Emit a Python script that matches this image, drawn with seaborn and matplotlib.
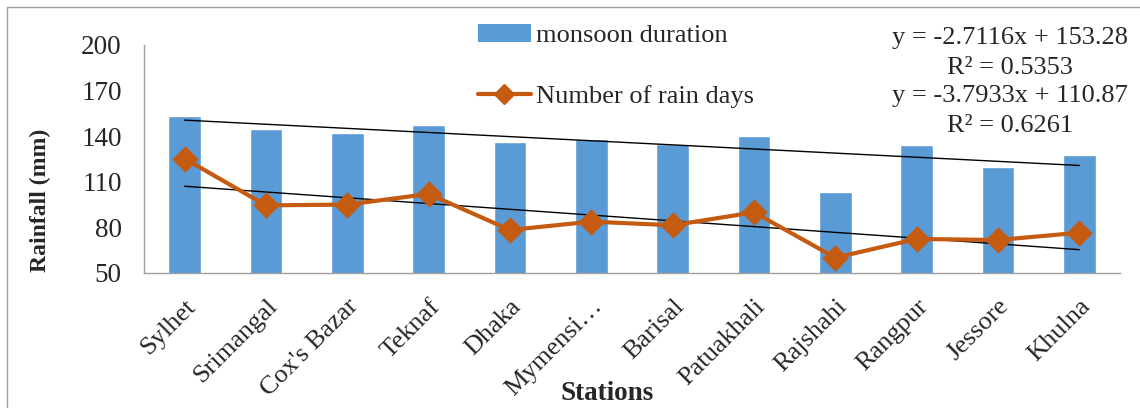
import numpy as np
import matplotlib
matplotlib.use("Agg")
import matplotlib.pyplot as plt
from matplotlib.lines import Line2D
from matplotlib.patches import Patch
import seaborn as sns

stations = ["Sylhet", "Srimangal", "Cox's Bazar", "Teknaf", "Dhaka", "Mymensi…",
            "Barisal", "Patuakhali", "Rajshahi", "Rangpur", "Jessore", "Khulna"]
monsoon_duration = [153.3, 144.7, 142.1, 147.4, 136.2, 138.0,
                    135.1, 140.3, 103.3, 134.2, 120.0, 127.4]
rain_days = [125.2, 94.5, 95.0, 102.0, 78.3, 83.8,
             81.4, 89.9, 60.1, 72.4, 71.7, 76.5]
# linear trend equations shown on the chart (x = 1..12)
trend_slope = [-2.7116, -3.7933]
trend_intercept = [153.28, 110.87]
trend_r2 = [0.5353, 0.6261]

bar_color = "#5B9BD5"
line_color = "#C55A11"
axis_gray = "#A0A0A0"

sns.set_style("white")
plt.rcParams["font.family"] = ["Liberation Serif", "DejaVu Serif"]

fig = plt.figure(figsize=(11.4, 4.08), dpi=100)
ax = fig.add_axes([144 / 1140, 1 - 273 / 408, 976 / 1140, 228 / 408])

sns.barplot(x=stations, y=monsoon_duration, color=bar_color, width=0.4,
            saturation=1, ax=ax, zorder=2)
sns.pointplot(x=stations, y=rain_days, color=line_color, markers="D",
              linestyles="-", markersize=11, linewidth=3, ax=ax, zorder=4)

# trend lines
xpos = np.arange(len(stations))
for m, b in zip(trend_slope, trend_intercept):
    sns.lineplot(x=xpos, y=m * (xpos + 1) + b, color="black", linewidth=1,
                 ax=ax, zorder=3)

ax.set_xlim(-0.5, len(stations) - 0.5)
ax.set_ylim(50, 200)
ax.set_yticks(range(50, 201, 30))
ax.set_xlabel("")
ax.set_ylabel("")

for s in ["top", "right"]:
    ax.spines[s].set_visible(False)
for s in ["left", "bottom"]:
    ax.spines[s].set_color(axis_gray)
    ax.spines[s].set_linewidth(1)

ax.tick_params(axis="y", which="major", direction="out", length=6,
               color=axis_gray, labelsize=19.5, pad=10)
ax.tick_params(axis="x", which="major", length=0, labelsize=19, pad=16)
ax.set_xticks(np.arange(-0.5, len(stations), 1), minor=True)
ax.tick_params(axis="x", which="minor", direction="out", length=6,
               color=axis_gray)
for lab in ax.get_xticklabels():
    lab.set_rotation(45)
    lab.set_ha("right")
    lab.set_rotation_mode("anchor")

fig.text(40 / 1140, 1 - 200 / 408, "Rainfall (mm)", fontsize=17,
         fontweight="bold", rotation=90, ha="center", va="center")
fig.text(607 / 1140, 1 - 393 / 408, "Stations", fontsize=19.5,
         fontweight="bold", ha="center", va="center")

handles = [Patch(facecolor=bar_color, edgecolor="none"),
           Line2D([], [], color=line_color, linewidth=3, marker="D",
                  markersize=10)]
fig.legend(handles, ["monsoon duration", "Number of rain days"],
           loc="upper left", bbox_to_anchor=(478 / 1140, 1 - 24 / 408),
           frameon=False, fontsize=19, handlelength=2.0, handletextpad=0.2,
           labelspacing=1.4, borderpad=0, borderaxespad=0)

eq_y = [38, 68, 96, 126]
eq_txt = [f"y = {trend_slope[0]}x + {trend_intercept[0]}", f"R² = {trend_r2[0]}",
          f"y = {trend_slope[1]}x + {trend_intercept[1]}", f"R² = {trend_r2[1]}"]
for yy, t in zip(eq_y, eq_txt):
    fig.text(1010 / 1140, 1 - yy / 408, t, fontsize=19, ha="center",
             va="center")

# outer chart border (left and top visible)
fig.add_artist(Line2D([7 / 1140, 7 / 1140], [0, 1 - 7 / 408],
                      color=axis_gray, linewidth=1, transform=fig.transFigure))
fig.add_artist(Line2D([7 / 1140, 1], [1 - 7 / 408, 1 - 7 / 408],
                      color=axis_gray, linewidth=1, transform=fig.transFigure))

fig.savefig("out.png", dpi=100)
